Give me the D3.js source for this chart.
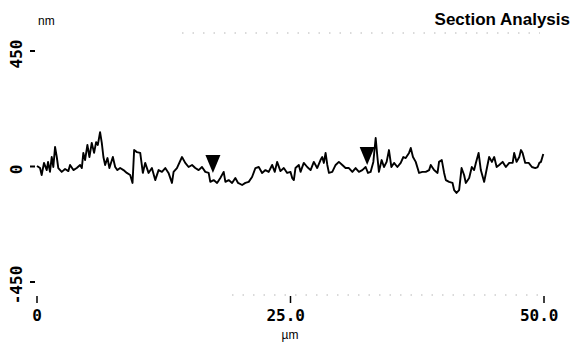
<!DOCTYPE html>
<html>
<head>
<meta charset="utf-8">
<script src="https://cdn.jsdelivr.net/npm/d3@7"></script>
<style>
  html, body { margin: 0; padding: 0; background: #fff; }
  svg { display: block; }
</style>
</head>
<body>
<svg id="chart" width="576" height="346"></svg>
<script>
// Surface profile along the section line
const positionUm = [0.0,0.3,0.46,0.69,0.96,1.09,1.28,1.45,1.61,1.78,1.95,2.10,2.44,2.77,3.09,3.26,3.59,3.92,4.25,4.42,4.57,4.74,4.97,5.17,5.40,5.63,5.83,6.00,6.22,6.39,6.55,6.72,6.95,7.14,7.48,7.71,7.93,8.20,8.53,8.86,9.19,9.42,9.58,9.85,10.18,10.44,10.67,11.00,11.33,11.66,11.99,12.32,12.65,12.97,13.31,13.47,13.80,14.30,14.62,14.95,15.29,15.61,15.94,16.27,16.60,16.93,17.09,17.42,17.76,18.08,18.41,18.58,18.90,19.24,19.56,19.83,20.23,20.55,20.88,21.21,21.54,21.87,22.20,22.53,22.85,23.19,23.45,23.68,24.01,24.34,24.67,25.00,25.17,25.33,25.49,25.82,25.99,26.31,26.65,26.98,27.30,27.63,27.96,28.13,28.29,28.46,28.63,28.79,29.12,29.45,29.77,30.11,30.43,30.76,31.10,31.42,31.75,32.08,32.41,32.64,32.90,33.17,33.40,33.57,33.72,33.99,34.22,34.48,34.71,34.95,35.21,35.54,35.87,36.13,36.36,36.69,36.86,37.08,37.35,37.68,38.01,38.34,38.67,38.83,39.16,39.50,39.65,39.92,40.15,40.32,40.64,40.98,41.14,41.37,41.63,41.87,42.12,42.29,42.62,42.88,43.11,43.28,43.55,43.77,44.10,44.37,44.59,44.86,45.09,45.33,45.58,45.92,46.24,46.57,46.91,47.06,47.30,47.56,47.73,47.89,48.15,48.49,48.81,49.14,49.38,49.54,49.70,49.93];
const heightNm = [2,-6,-33,14,-14,18,-21,37,-2,76,37,-6,-21,-10,-18,6,-14,-6,6,-6,53,25,84,37,92,53,95,84,134,92,37,6,33,-6,37,-2,-14,-6,-14,-25,-33,-64,64,56,53,-25,14,-25,-6,-53,-14,-21,-6,-25,-64,-21,-6,37,14,-2,6,-6,-14,-2,-21,-25,-60,-53,-64,-45,-21,-60,-53,-64,-45,-64,-72,-64,-60,-41,-6,-2,-25,-14,-21,6,-21,18,-18,-6,-25,-21,-45,-53,-6,6,-21,14,-2,-14,18,-6,25,37,14,53,6,-25,-21,6,18,6,-6,-6,-21,-6,-21,-14,-2,-25,-21,18,111,37,-21,25,-2,18,64,-2,14,-2,14,37,33,53,72,37,18,-25,-21,-21,-14,6,-14,-25,18,25,-25,-53,-60,-64,-92,-103,-92,-6,-33,-64,-45,-2,-14,14,53,-14,-60,-6,37,18,37,-2,6,18,-2,14,14,53,18,37,64,53,14,14,-2,-6,-2,14,18,49];

// Cursor markers
const markerUm = [17.35, 32.56];
const markerNm = [-25, 6];

// Axis ticks
const xTicks = [0, 25, 50];
const xTickLabels = ["0", "25.0", "50.0"];
const yTicks = [450, 0, -450];
const yTickLabels = ["450", "0", "-450"];

const svg = d3.select("#chart");

const x = d3.scaleLinear().domain([0, 50]).range([37, 544]);
const y = d3.scaleLinear().domain([-450, 450]).range([282, 51]);

const monoFont = "'DejaVu Sans Mono', 'Liberation Mono', monospace";
const charW = 16 * 0.602;

// Faint dotted frame remnants
svg.append("line")
  .attr("x1", 182).attr("x2", 540).attr("y1", 33).attr("y2", 33)
  .attr("stroke", "#b5b5b5").attr("stroke-width", 1)
  .attr("stroke-dasharray", "1.5,9");
svg.append("line")
  .attr("x1", 232).attr("x2", 540).attr("y1", 295).attr("y2", 295)
  .attr("stroke", "#b5b5b5").attr("stroke-width", 1)
  .attr("stroke-dasharray", "1.5,9");

// Y axis: short ticks with rotated labels
const yg = svg.append("g");
yg.selectAll("line").data(yTicks).join("line")
  .attr("x1", 30).attr("x2", 35)
  .attr("y1", d => y(d)).attr("y2", d => y(d))
  .attr("stroke", "#000").attr("stroke-width", 2);
yg.selectAll("text").data(yTicks).join("text")
  .attr("transform", d => `translate(22,${y(d) + 3}) rotate(-90)`)
  .attr("text-anchor", "middle")
  .attr("font-family", monoFont)
  .attr("font-weight", "bold")
  .attr("font-size", 16)
  .attr("fill", "#000")
  .text((d, i) => yTickLabels[i]);

svg.append("text")
  .attr("x", 38).attr("y", 25)
  .attr("font-family", "'Liberation Sans', Arial, sans-serif")
  .attr("font-size", 12)
  .text("nm");

// X axis: ticks with labels aligned on the decimal point
const xg = svg.append("g");
xg.selectAll("line").data(xTicks).join("line")
  .attr("x1", d => x(d)).attr("x2", d => x(d))
  .attr("y1", 296).attr("y2", 303)
  .attr("stroke", "#000").attr("stroke-width", 1.5);
xg.selectAll("text").data(xTicks).join("text")
  .attr("x", (d, i) => {
    const s = xTickLabels[i];
    const dot = s.indexOf(".");
    return dot < 0 ? x(d) - charW * s.length / 2 : x(d) - charW * (dot + 0.5);
  })
  .attr("y", 321)
  .attr("font-family", monoFont)
  .attr("font-weight", "bold")
  .attr("font-size", 16)
  .attr("fill", "#000")
  .text((d, i) => xTickLabels[i]);

svg.append("text")
  .attr("x", 290).attr("y", 339)
  .attr("text-anchor", "middle")
  .attr("font-family", "'Liberation Sans', Arial, sans-serif")
  .attr("font-size", 12)
  .text("µm");

svg.append("text")
  .attr("x", 570).attr("y", 25)
  .attr("text-anchor", "end")
  .attr("font-family", "'Liberation Sans', Arial, sans-serif")
  .attr("font-weight", "bold")
  .attr("font-size", 17)
  .text("Section Analysis");

// Profile line
const pts = positionUm.map((p, i) => [p, heightNm[i]]);
svg.append("path")
  .datum(pts)
  .attr("fill", "none")
  .attr("stroke", "#000")
  .attr("stroke-width", 1.9)
  .attr("stroke-linejoin", "round")
  .attr("d", d3.line().x(d => x(d[0])).y(d => y(d[1])));

// Cursor triangles pointing down onto the profile
svg.selectAll("path.marker").data(markerUm).join("path")
  .attr("class", "marker")
  .attr("d", (d, i) => {
    const cx = x(d), cy = y(markerNm[i]);
    return `M${cx - 7.5},${cy - 18}L${cx + 7.5},${cy - 18}L${cx},${cy}Z`;
  })
  .attr("fill", "#000");
</script>
</body>
</html>
